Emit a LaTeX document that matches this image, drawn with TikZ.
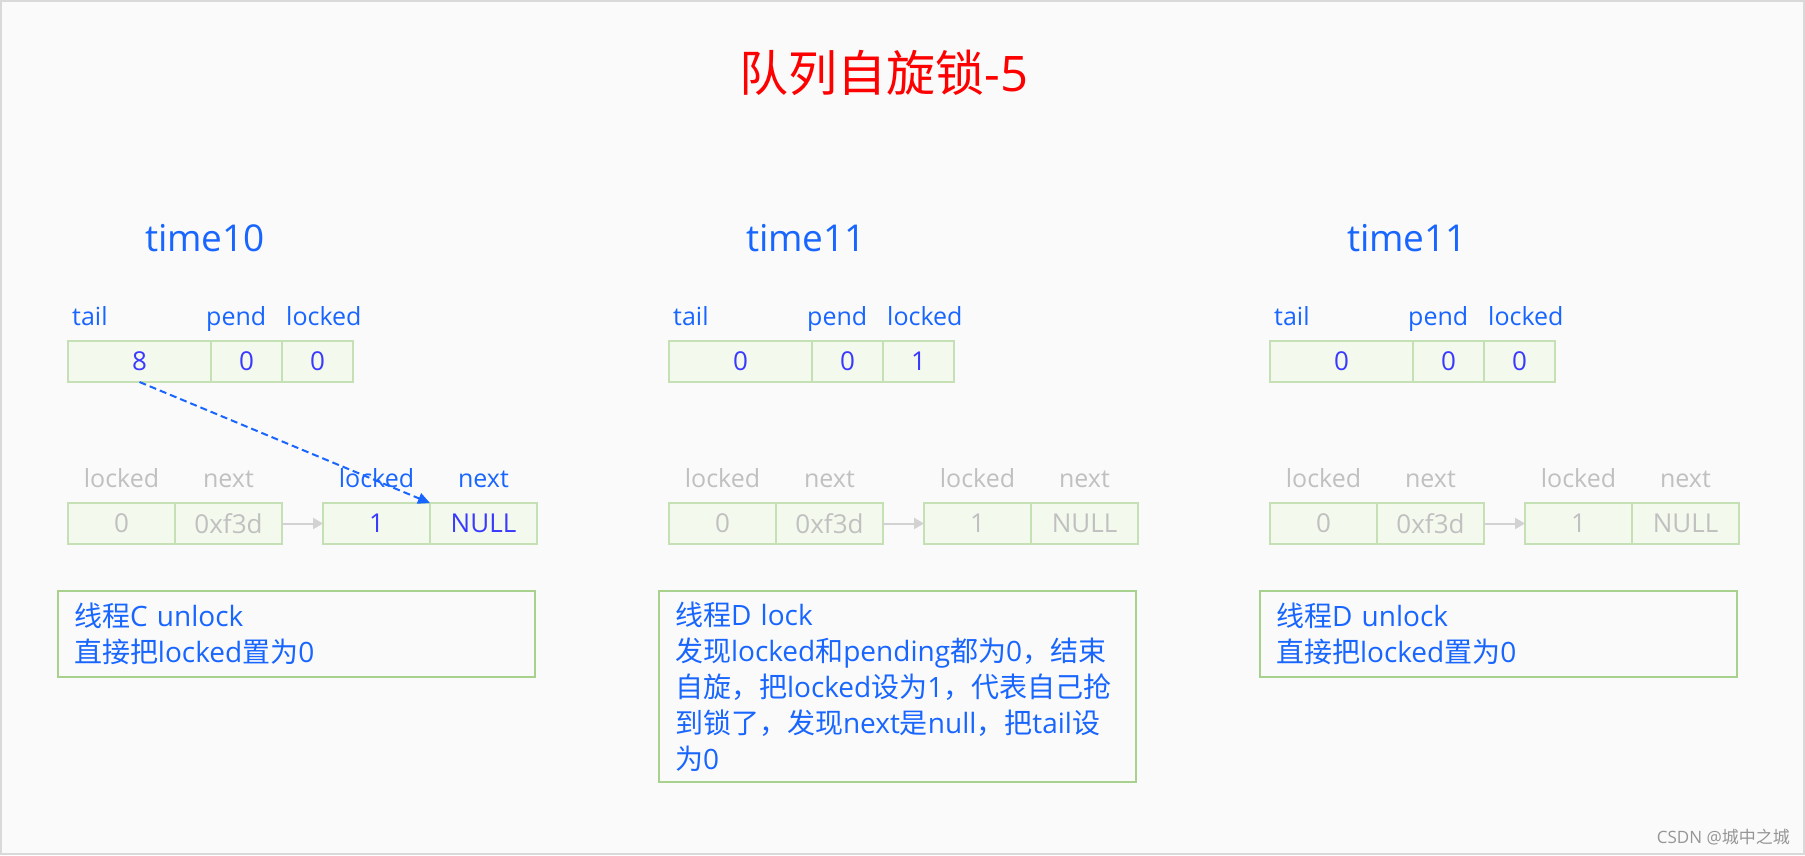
\documentclass[tikz,border=0pt]{standalone}
\usepackage{fontspec}
\setmainfont{Open Sans}
\newfontfamily\zh{Noto Sans CJK SC}
\usetikzlibrary{positioning}
\usetikzlibrary{arrows.meta}

\definecolor{labBlue}{RGB}{24,102,255}
\definecolor{valBlue}{RGB}{58,58,255}
\definecolor{grayText}{RGB}{192,192,192}
\definecolor{cellFill}{RGB}{244,249,238}
\definecolor{cellLine}{RGB}{197,224,180}
\definecolor{noteLine}{RGB}{169,209,142}
\definecolor{arrowGray}{RGB}{210,210,210}
\definecolor{bgPaper}{RGB}{250,250,250}
\definecolor{frameLine}{RGB}{217,217,217}
\definecolor{markGray}{RGB}{150,150,150}

\begin{document}
\begin{tikzpicture}[
    % one unit is one pixel of the picture, y runs downwards
    x=1pt, y=-1pt,
    cell/.style  = {draw=cellLine, fill=cellFill, line width=2pt,
                    minimum height=41, inner sep=0pt, outer sep=0pt,
                    font=\fontsize{26}{30}\selectfont},
    lbl/.style   = {inner sep=0pt, font=\fontsize{25}{30}\selectfont},
    note/.style  = {draw=noteLine, line width=2.5pt, anchor=north west,
                    minimum width=477, text width=445, inner xsep=16pt,
                    inner ysep=0pt, outer sep=0pt, align=left, text=labBlue,
                    font=\fontsize{28}{36}\selectfont},
    qArrow/.style   = {draw=arrowGray, line width=2pt,
                       -{Triangle[length=10pt, width=11pt]}},
    tailPtr/.style  = {draw=labBlue, line width=2pt, dash pattern=on 7pt off 4pt,
                       -{Triangle[length=12pt, width=11pt]}},
    ]

    % Determines the boundries
    \path[use as bounding box] (0,0) rectangle (1805,855);
    \fill[bgPaper] (0,0) rectangle (1805,855);
    \draw[frameLine, line width=2pt] (1,1) rectangle (1804,854);

    % title
    \node[text=red, font=\fontsize{49}{52}\selectfont] (title) at (884,73) {{\zh 队列自旋锁}-5};

    % the three moments, one column each
    \foreach \c/\off/\T/\tl/\pd/\lk/\lc/\vc in
        {1/0/time10/8/0/0/labBlue/valBlue,
         2/601/time11/0/0/1/grayText/grayText,
         3/1202/time11/0/0/0/grayText/grayText}{
    \begin{scope}[xshift=\off]
        \node[lbl, text=labBlue, font=\fontsize{37}{40}\selectfont] (time\c) at (205,238) {\T};

        % lock word: tail | pending | locked
        \node[cell, minimum width=143, text=valBlue] (tail\c) at (139.5,361.5) {\tl};
        \node[cell, minimum width=71, text=valBlue, right=0pt of tail\c] (pend\c) {\pd};
        \node[cell, minimum width=71, text=valBlue, right=0pt of pend\c] (lock\c) {\lk};
        \node[lbl, text=labBlue, anchor=base west] (tailL\c) at (72,325) {tail};
        \node[lbl, text=labBlue, anchor=base west] (pendL\c) at (206,325) {pend};
        \node[lbl, text=labBlue, anchor=base west] (lockL\c) at (286,325) {locked};

        % queue nodes
        \node[cell, minimum width=107, text=grayText] (qaLock\c) at (121.5,523.5) {0};
        \node[cell, minimum width=107, text=grayText, right=0pt of qaLock\c] (qaNext\c) {0xf3d};
        \node[cell, minimum width=107, text=\vc] (qbLock\c) at (376.5,523.5) {1};
        \node[cell, minimum width=107, text=\vc, right=0pt of qbLock\c] (qbNext\c) {NULL};
        \node[lbl, text=grayText, anchor=base] (qaLockL\c) at (121.5,487) {locked};
        \node[lbl, text=grayText, anchor=base] (qaNextL\c) at (228.5,487) {next};
        \node[lbl, text=\lc, anchor=base] (qbLockL\c) at (376.5,487) {locked};
        \node[lbl, text=\lc, anchor=base] (qbNextL\c) at (483.5,487) {next};

        \draw[qArrow] (qaNext\c) -- (qbLock\c);
    \end{scope}
    }

    % tail points at the last queue node
    \draw[tailPtr] (tail1.south) -- (qbLock1.north east);

    % what the threads do
    \node[note, minimum height=86] (note1) at (58,591)
        {{\zh 线程}C unlock\\
         {\zh 直接把}locked{\zh 置为}0};
    \node[note, minimum height=191] (note2) at (659,591)
        {{\zh 线程}D lock\\
         {\zh 发现}locked{\zh 和}pending{\zh 都为}0{\zh ，结束}\\
         {\zh 自旋，把}locked{\zh 设为}1{\zh ，代表自己抢}\\
         {\zh 到锁了，发现}next{\zh 是}null{\zh ，把}tail{\zh 设}\\
         {\zh 为}0};
    \node[note, minimum height=86] (note3) at (1260,591)
        {{\zh 线程}D unlock\\
         {\zh 直接把}locked{\zh 置为}0};

    \node[anchor=east, inner sep=0pt, text=markGray, font=\fontsize{17}{20}\selectfont] (mark) at (1790,837) {CSDN @{\zh 城中之城}};
\end{tikzpicture}
\end{document}
